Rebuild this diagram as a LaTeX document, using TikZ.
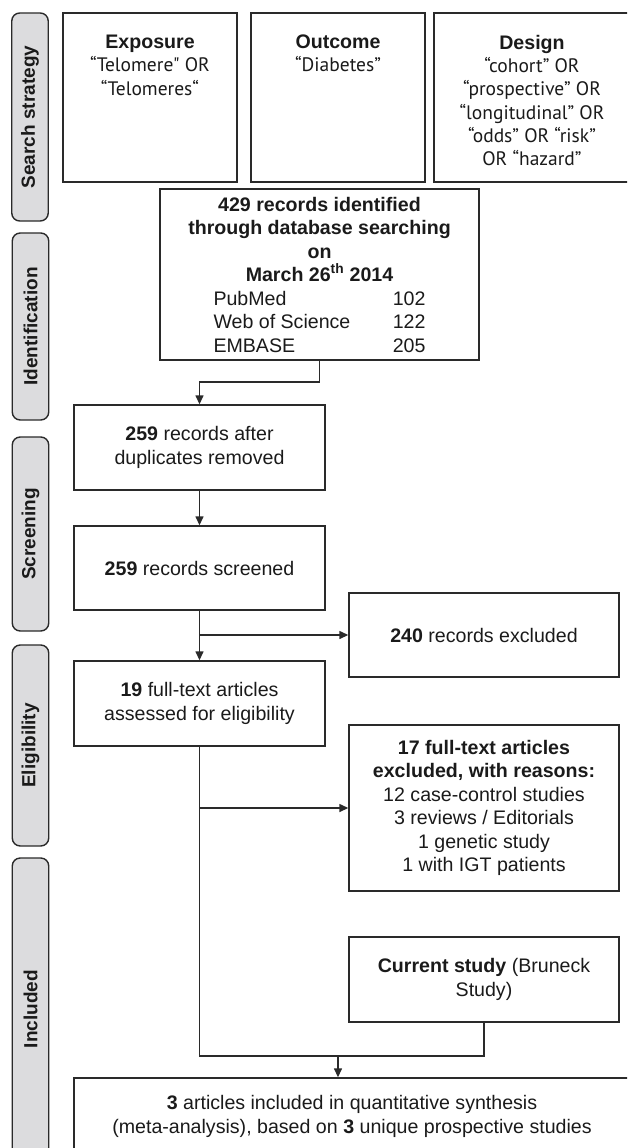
\documentclass[tikz,border=0pt]{standalone}
\usepackage{fontspec}
\setmainfont{Liberation Sans}
\newfontfamily\myr{PT Sans}
\usetikzlibrary{arrows.meta}
\definecolor{ln}{HTML}{2A2A2A}
\definecolor{side}{HTML}{DCDCDE}
\definecolor{txt}{HTML}{1A1A1A}
\newcommand\topcontent[2]{\parbox[c][169pt][t]{#1}{\fontsize{19.5}{23.3}\selectfont\centering\vspace*{22pt}#2\par}}
\tikzset{
  box/.style={draw=ln, line width=1.4pt, rectangle, inner sep=0pt, align=center, text=txt,
    font=\fontsize{19.6}{23.5}\selectfont},
  topbox/.style={draw=ln, line width=1.4pt, rectangle, inner sep=0pt, text=txt,
    font=\fontsize{19.5}{23.3}\selectfont, minimum height=169pt},
  sidebar/.style={draw=ln, line width=1.4pt, fill=side, rounded corners=8pt, rotate=90,
    minimum height=36.5pt, inner sep=0pt, text=txt, font=\fontsize{19}{23}\selectfont\bfseries},
  conn/.style={draw=ln, line width=1.4pt},
  arr/.style={conn, -{Triangle[length=9pt,width=8pt]}},
}
\begin{document}
\begin{tikzpicture}[x=1pt,y=-1pt]
\useasboundingbox (0,0) rectangle (627,1148);
\clip (0,0) rectangle (627,1148);
% side bars
\node[sidebar, minimum width=208pt] (s1) at (30,117) {Search strategy};
\node[sidebar, minimum width=187pt] (s2) at (30.5,326.5) {Identification};
\node[sidebar, minimum width=194pt] (s3) at (30.5,534) {Screening};
\node[sidebar, minimum width=201pt] (s4) at (30.5,745.5) {Eligibility};
\node[sidebar, minimum width=302pt] (s5) at (30.5,1009) {Included};
% top boxes
\node[topbox, minimum width=174pt] (expo) at (150,97.5)
  {\topcontent{174pt}{{\fontsize{19.6}{23.3}\selectfont\bfseries Exposure}\\ \myr “Telomere" OR\\ “Telomeres“}};
\node[topbox, minimum width=174pt] (outc) at (338,97.5)
  {\topcontent{174pt}{{\fontsize{19.6}{23.3}\selectfont\bfseries Outcome}\\ \myr “Diabetes”}};
\node[topbox, minimum width=196pt] (desi) at (532,97.5)
  {\topcontent{196pt}{{\fontsize{19.6}{23.3}\selectfont\bfseries Design}\\ \myr “cohort” OR\\ “prospective” OR\\ “longitudinal” OR\\ “odds” OR “risk”\\ OR “hazard”}};
% identification
\node[box, minimum width=319pt, minimum height=171pt] (ident) at (319.5,274.5)
  {\textbf{429 records identified}\\ \textbf{through database searching}\\ \textbf{on}\\
   \textbf{March 26\textsuperscript{th} 2014}\\
   \makebox[212pt]{PubMed\hfill 102}\\ \makebox[212pt]{Web of Science\hfill 122}\\ \makebox[212pt]{EMBASE\hfill 205}};
% flow
\node[box, minimum width=251pt, minimum height=85pt] (dup) at (199.5,447.5)
  {\textbf{259} records after\\ duplicates removed};
\node[box, minimum width=251pt, minimum height=84pt] (scrn) at (199.5,568)
  {\textbf{259} records screened};
\node[box, minimum width=270pt, minimum height=84pt] (excl) at (484,635)
  {\textbf{240} records excluded};
\node[box, minimum width=251pt, minimum height=85pt] (full) at (199.5,703.5)
  {\textbf{19} full-text articles\\ assessed for eligibility};
\node[box, minimum width=270pt, minimum height=166pt] (exclr) at (484,808)
  {\textbf{17 full-text articles}\\ \textbf{excluded, with reasons:}\\ 12 case-control studies\\
   3 reviews / Editorials\\ 1 genetic study\\ 1 with IGT patients};
\node[box, minimum width=270pt, minimum height=85pt] (cur) at (484,979.5)
  {\textbf{Current study} (Bruneck\\ Study)};
\node[box, minimum width=556pt, minimum height=77pt] (final) at (352,1116.5)
  {\textbf{3} articles included in quantitative synthesis\\
   (meta-analysis), based on \textbf{3} unique prospective studies};
% connectors
\coordinate (j1) at (199.5,382);
\coordinate (j2) at (199.5,635);
\coordinate (j3) at (199.5,808);
\coordinate (j4) at (199.5,1056);
\coordinate (j5) at (338,1056);
\draw[arr] (ident.south) |- (j1) -- (dup.north);
\draw[arr] (dup.south) -- (scrn.north);
\draw[arr] (scrn.south) -- (full.north);
\draw[arr] (j2) -- (excl.west);
\draw[conn] (full.south) -- (j4) -| (cur.south);
\draw[arr] (j3) -- (exclr.west);
\draw[arr] (j5) -- (j5 |- final.north);
\end{tikzpicture}
\end{document}
